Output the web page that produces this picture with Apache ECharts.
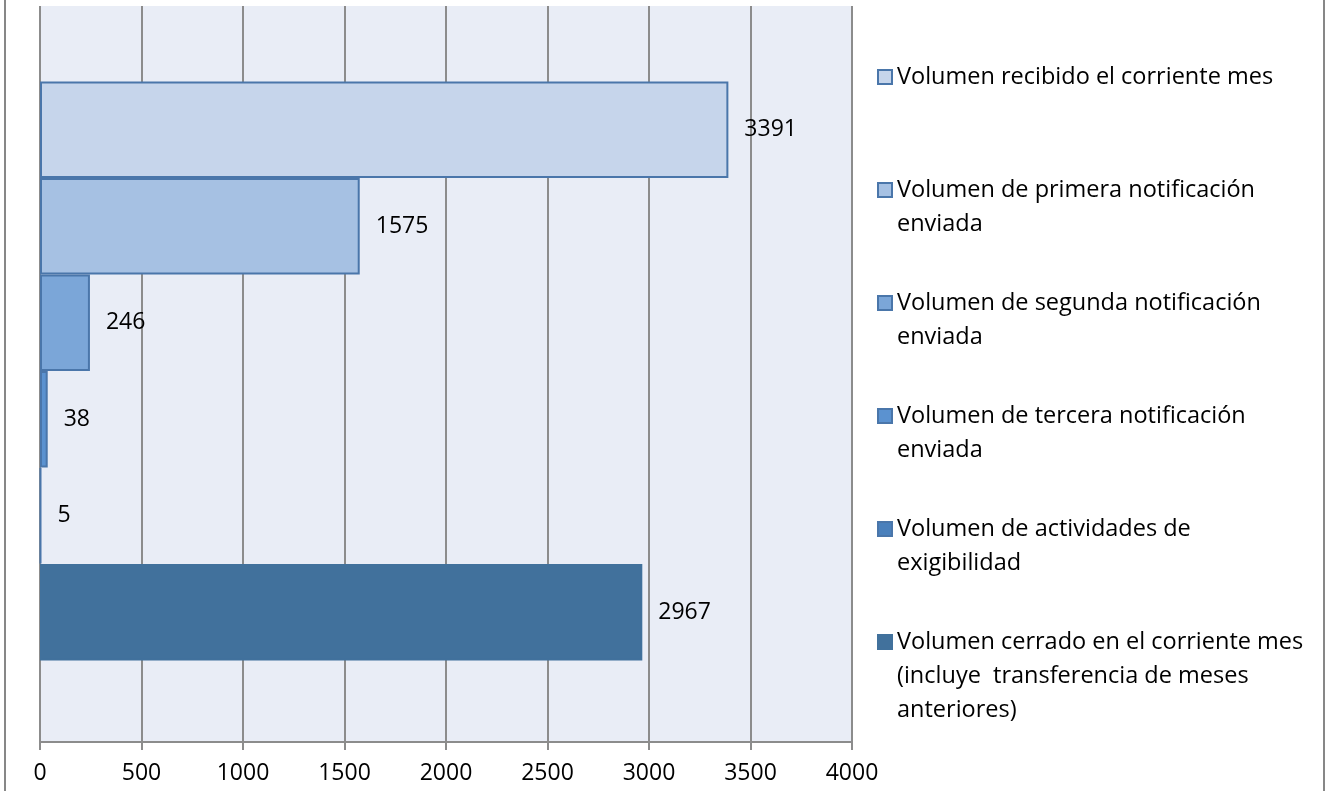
<!DOCTYPE html>
<html>
<head>
<meta charset="utf-8">
<script src="https://cdn.jsdelivr.net/npm/echarts@6/dist/echarts.min.js"></script>
<style>
  html, body { margin: 0; padding: 0; background: #fff; }
  #chart { width: 1326px; height: 791px; }
</style>
</head>
<body>
<div id="chart"></div>
<script>
var seriesNames = [
    'Volumen recibido el corriente mes',
    'Volumen de primera notificación enviada',
    'Volumen de segunda notificación enviada',
    'Volumen de tercera notificación enviada',
    'Volumen de actividades de exigibilidad',
    'Volumen cerrado en el corriente mes (incluye  transferencia de meses anteriores)'
];
var seriesValues = [3391, 1575, 246, 38, 5, 2967];
var categories = [''];
var xTicks = [0, 500, 1000, 1500, 2000, 2500, 3000, 3500, 4000];

var colors = ['#C6D5EB', '#A6C1E3', '#7BA6D8', '#5B92D0', '#4A80BC', '#41719C'];
var borderColors = ['#4A76AA', '#4A76AA', '#4A76AA', '#4A76AA', '#4A76AA', '#41719C'];
// wrapped line count of each legend entry, used to line the icon up with the first line
var legendLines = [1, 2, 2, 2, 2, 3];
var lineH = 34;
var fontFam = '"Open Sans", "DejaVu Sans", sans-serif';

var chart = echarts.init(document.getElementById('chart'));

var series = [];
var legends = [];
for (var i = 0; i < seriesNames.length; i++) {
    series.push({
        name: seriesNames[i],
        type: 'bar',
        data: [seriesValues[i]],
        barGap: '0%',
        barCategoryGap: '22%',
        itemStyle: {
            color: colors[i],
            borderColor: borderColors[i],
            borderWidth: 2
        },
        label: {
            show: true,
            position: 'right',
            distance: 16,
            color: '#000',
            fontSize: 23,
            fontFamily: fontFam,
            formatter: function (p) { return String(p.value); }
        }
    });
    (function (n) {
        var c = 77 + 113 * i;
        legends.push({
            data: [seriesNames[i]],
            orient: 'vertical',
            left: 877,
            top: c - (2 * n - 1) * lineH / 2,
            padding: 0,
            itemWidth: 14,
            itemHeight: 14,
            itemGap: 0,
            icon: 'rect',
            selectedMode: false,
            // blank lines in front keep the icon level with the first text line
            formatter: function (name) {
                var pre = '';
                for (var k = 1; k < n; k++) { pre += '\n'; }
                return pre + name;
            },
            textStyle: {
                color: '#000',
                fontSize: 23.5,
                fontFamily: fontFam,
                lineHeight: lineH,
                width: 414,
                overflow: 'break'
            }
        });
    })(legendLines[i]);
}

var option = {
    backgroundColor: '#fff',
    animation: false,
    legend: legends,
    grid: {
        left: 40,
        right: 474,
        top: -3,
        bottom: 49,
        show: true,
        backgroundColor: '#E9EDF6',
        borderWidth: 0
    },
    xAxis: {
        type: 'value',
        min: xTicks[0],
        max: xTicks[xTicks.length - 1],
        interval: 500,
        axisLine: { show: true, lineStyle: { color: '#8C8C8C', width: 2 } },
        axisTick: { show: true, length: 8, lineStyle: { color: '#8C8C8C', width: 2 } },
        splitLine: { show: true, lineStyle: { color: '#8C8C8C', width: 2 } },
        axisLabel: {
            color: '#000', fontSize: 23, fontFamily: fontFam, margin: 20,
            formatter: function (v) { return String(v); }
        }
    },
    yAxis: {
        type: 'category',
        data: categories,
        axisLine: { show: true, lineStyle: { color: '#8C8C8C', width: 2 } },
        axisTick: { show: false },
        axisLabel: { show: false }
    },
    graphic: [{
        // white strip above the plot area
        type: 'rect',
        shape: { x: 20, y: -10, width: 850, height: 16 },
        style: { fill: '#fff' },
        z: 100,
        silent: true
    }, {
        type: 'rect',
        shape: { x: 5, y: -10, width: 1319, height: 820 },
        style: { fill: 'none', stroke: '#878787', lineWidth: 2 },
        z: 101,
        silent: true
    }],
    series: series
};

chart.setOption(option);
</script>
</body>
</html>
